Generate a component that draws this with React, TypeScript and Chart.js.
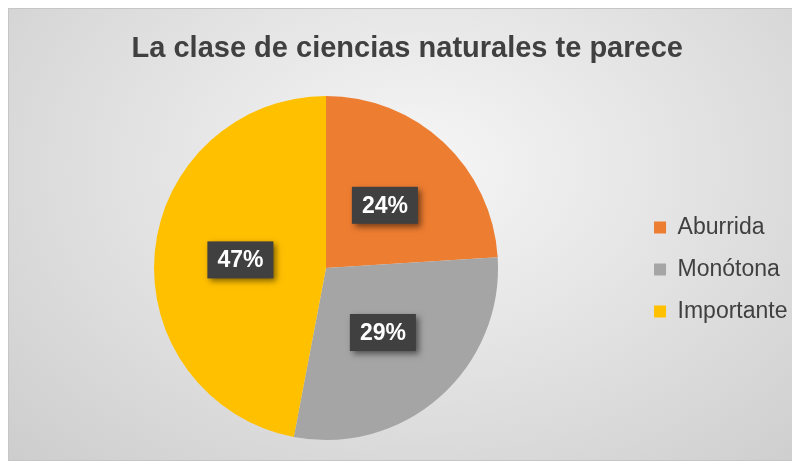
import React, { useEffect, useRef } from "react";
import { Chart, registerables } from "chart.js";

Chart.register(...registerables);

const chartTitle = "La clase de ciencias naturales te parece";
const categories = ["Aburrida", "Monótona", "Importante"];
const values = [24, 29, 47];
const colors = ["#ED7D31", "#A5A5A5", "#FFC000"];

const FONT = "'Liberation Sans', Arial, Helvetica, sans-serif";

const labelBoxes = {
  id: "labelBoxes",
  afterDatasetsDraw(chart: any) {
    const ctx = chart.ctx as CanvasRenderingContext2D;
    const meta = chart.getDatasetMeta(0);
    const data = chart.data.datasets[0].data as number[];
    const total = data.reduce((a, b) => a + b, 0);
    meta.data.forEach((arc: any, i: number) => {
      const { x, y, startAngle, endAngle, outerRadius } = arc.getProps(
        ["x", "y", "startAngle", "endAngle", "outerRadius"],
        true
      );
      const mid = (startAngle + endAngle) / 2;
      const r = outerRadius * 0.5;
      const cx = x + Math.cos(mid) * r;
      const cy = y + Math.sin(mid) * r;
      const text = Math.round((data[i] / total) * 100) + "%";
      ctx.save();
      ctx.font = `bold 23px ${FONT}`;
      const w = ctx.measureText(text).width + 20;
      const h = 37;
      ctx.shadowColor = "rgba(0,0,0,0.5)";
      ctx.shadowBlur = 6;
      ctx.shadowOffsetX = 3;
      ctx.shadowOffsetY = 3;
      ctx.fillStyle = "#404040";
      ctx.fillRect(cx - w / 2, cy - h / 2, w, h);
      ctx.shadowColor = "transparent";
      ctx.shadowBlur = 0;
      ctx.shadowOffsetX = 0;
      ctx.shadowOffsetY = 0;
      ctx.fillStyle = "#ffffff";
      ctx.textAlign = "center";
      ctx.textBaseline = "middle";
      ctx.fillText(text, cx, cy + 1);
      ctx.restore();
    });
  },
};

export default function App() {
  const ref = useRef<HTMLCanvasElement | null>(null);

  useEffect(() => {
    if (!ref.current) return;
    const chart = new Chart(ref.current, {
      type: "pie",
      data: {
        labels: categories,
        datasets: [
          {
            data: values,
            backgroundColor: colors,
            borderWidth: 0,
          },
        ],
      },
      options: {
        responsive: false,
        animation: false,
        events: [],
        layout: { padding: { left: 8, right: -0.5, top: 0, bottom: 20 } },
        plugins: {
          title: {
            display: true,
            text: chartTitle,
            color: "#404040",
            font: { family: FONT, size: 29, weight: "bold" },
            padding: { top: 22.6, bottom: 29.6 },
          },
          legend: {
            position: "right",
            title: {
              display: true,
              text: "",
              font: { family: FONT, size: 10 },
              padding: { top: 78, bottom: 0 },
            },
            labels: {
              color: "#404040",
              font: { family: FONT, size: 23 },
              boxWidth: 12,
              boxHeight: 12,
              padding: 19,
            },
          },
          tooltip: { enabled: false },
        },
      },
      plugins: [labelBoxes],
    });
    return () => chart.destroy();
  }, []);

  return (
    <div
      style={{
        width: 788,
        height: 451,
        border: "1px solid #c6c6c6",
        background:
          "radial-gradient(ellipse farthest-corner at 52% 35%, #f6f6f6 0%, #e6e6e6 40%, #cdcdcd 100%)",
      }}
    >
      <canvas ref={ref} width={788} height={451} style={{ display: "block" }} />
    </div>
  );
}
